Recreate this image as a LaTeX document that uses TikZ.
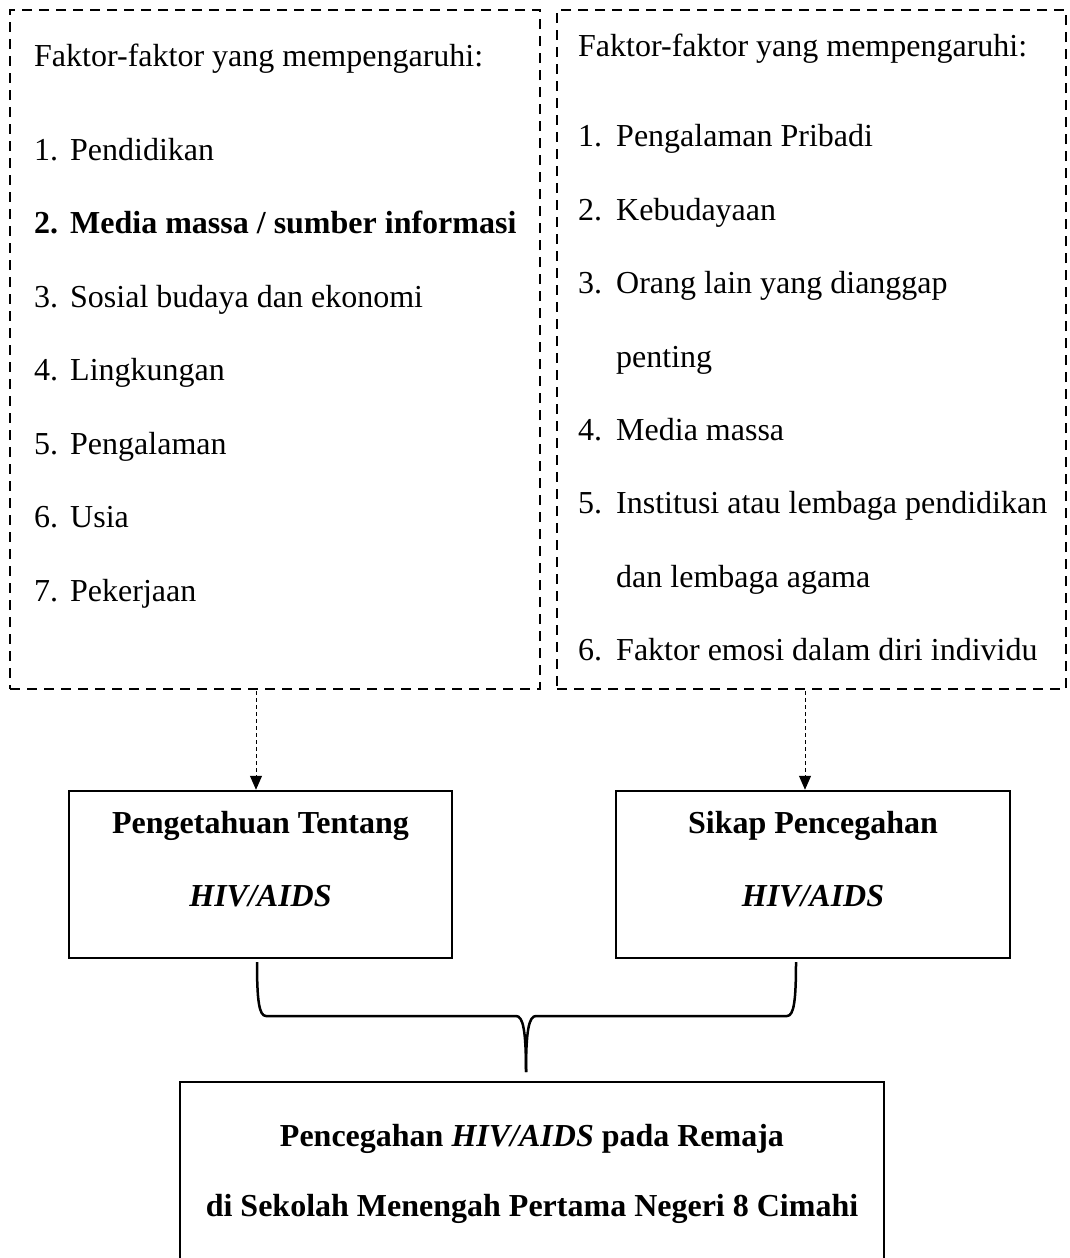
\documentclass[tikz,border=0pt]{standalone}
\usepackage{fontspec}
\setmainfont{Liberation Serif}
\usetikzlibrary{arrows.meta}
\begin{document}
\begin{tikzpicture}[x=1pt,y=-1pt,
  txt/.style={inner sep=0pt, font=\fontsize{32}{39}\selectfont},
  btxt/.style={txt, font=\fontsize{32}{39}\selectfont\bfseries},
  dbox/.style={draw, line width=2.6pt, dash pattern=on 10pt off 7pt, inner sep=0pt},
  sbox/.style={draw, line width=2.5pt, inner sep=0pt},
  darrow/.style={line width=1pt, dash pattern=on 4pt off 3pt, -{Triangle[length=14pt,width=12pt]}},
  bracestyle/.style={line width=2.5pt}]
\useasboundingbox (0,0) rectangle (1069,1258);
% dashed boxes
\node[dbox, minimum width=530pt, minimum height=679pt] (lf) at (275,349.5) {};
\node[dbox, minimum width=509pt, minimum height=679pt] (rf) at (811.5,349.5) {};
% left box text
\node[txt, anchor=base west] (lt) at (34,66) {Faktor-faktor yang mempengaruhi:};
\node[txt, anchor=base west] (ln1) at (34,160) {1.};
\node[txt, anchor=base west] (li1) at (70,160) {Pendidikan};
\node[btxt, anchor=base west] (ln2) at (34,233.5) {2.};
\node[btxt, anchor=base west] (li2) at (70,233.5) {Media massa / sumber informasi};
\node[txt, anchor=base west] (ln3) at (34,307) {3.};
\node[txt, anchor=base west] (li3) at (70,307) {Sosial budaya dan ekonomi};
\node[txt, anchor=base west] (ln4) at (34,380.5) {4.};
\node[txt, anchor=base west] (li4) at (70,380.5) {Lingkungan};
\node[txt, anchor=base west] (ln5) at (34,454) {5.};
\node[txt, anchor=base west] (li5) at (70,454) {Pengalaman};
\node[txt, anchor=base west] (ln6) at (34,527.5) {6.};
\node[txt, anchor=base west] (li6) at (70,527.5) {Usia};
\node[txt, anchor=base west] (ln7) at (34,601) {7.};
\node[txt, anchor=base west] (li7) at (70,601) {Pekerjaan};
% right box text
\node[txt, anchor=base west] (rt) at (578,56) {Faktor-faktor yang mempengaruhi:};
\node[txt, anchor=base west] (rn1) at (578,146) {1.};
\node[txt, anchor=base west] (ri1) at (616,146) {Pengalaman Pribadi};
\node[txt, anchor=base west] (rn2) at (578,220) {2.};
\node[txt, anchor=base west] (ri2) at (616,220) {Kebudayaan};
\node[txt, anchor=base west] (rn3) at (578,293) {3.};
\node[txt, anchor=base west] (ri3) at (616,293) {Orang lain yang dianggap};
\node[txt, anchor=base west] (ri3b) at (616,367) {penting};
\node[txt, anchor=base west] (rn4) at (578,440) {4.};
\node[txt, anchor=base west] (ri4) at (616,440) {Media massa};
\node[txt, anchor=base west] (rn5) at (578,513) {5.};
\node[txt, anchor=base west] (ri5) at (616,513) {Institusi atau lembaga pendidikan};
\node[txt, anchor=base west] (ri5b) at (616,587) {dan lembaga agama};
\node[txt, anchor=base west] (rn6) at (578,660) {6.};
\node[txt, anchor=base west] (ri6) at (616,660) {Faktor emosi dalam diri individu};
% middle boxes
\node[sbox, minimum width=383pt, minimum height=167pt] (know) at (260.5,874.5) {};
\node[btxt, anchor=base] (k1) at (260.5,833) {Pengetahuan Tentang};
\node[btxt, anchor=base] (k2) at (260.5,906) {\itshape HIV/AIDS};
\node[sbox, minimum width=394pt, minimum height=167pt] (att) at (813,874.5) {};
\node[btxt, anchor=base] (s1) at (813,833) {Sikap Pencegahan};
\node[btxt, anchor=base] (s2) at (813,906) {\itshape HIV/AIDS};
% arrows
\coordinate (a1) at (256,691);
\coordinate (a2) at (805,691);
\draw[darrow] (a1) -- (a1 |- know.north);
\draw[darrow] (a2) -- (a2 |- att.north);
% brace
\coordinate (bl) at (257,962);
\coordinate (br) at (796,962);
\coordinate (bt) at (526,1072);
\draw[bracestyle] (bl) .. controls (257,1000) and (259,1016) .. (266,1016) -- (516,1016)
  .. controls (523,1016) and (526,1030) .. (bt);
\draw[bracestyle] (br) .. controls (796,1000) and (794,1016) .. (787,1016) -- (536,1016)
  .. controls (529,1016) and (526,1030) .. (bt);
% bottom box (open at the bottom edge of the page)
\node[inner sep=0pt, minimum width=704pt, minimum height=176pt] (goal) at (532,1170) {};
\draw[line width=2.5pt] (goal.south west) -- (goal.north west) -- (goal.north east) -- (goal.south east);
\node[btxt, anchor=base] (g1) at (532,1146) {Pencegahan \textit{HIV/AIDS} pada Remaja};
\node[btxt, anchor=base] (g2) at (532,1216) {di Sekolah Menengah Pertama Negeri 8 Cimahi};
\end{tikzpicture}
\end{document}
